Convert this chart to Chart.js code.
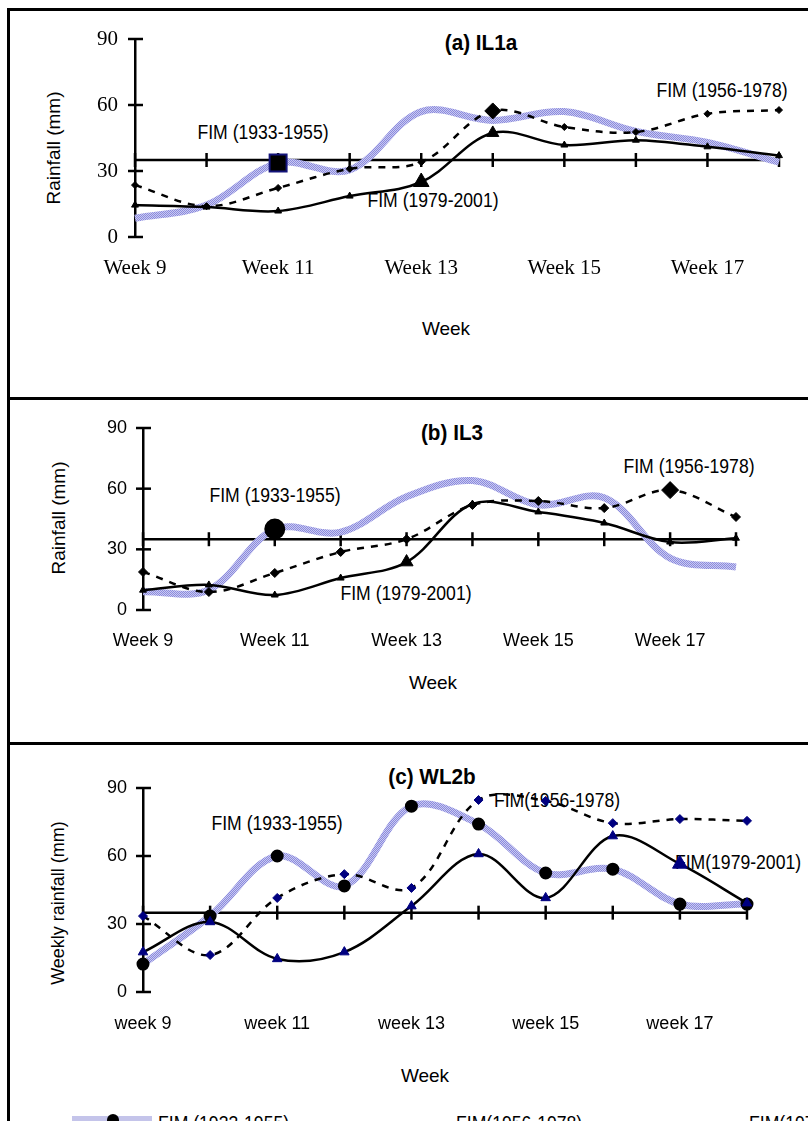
<!DOCTYPE html>
<html>
<head>
<meta charset="utf-8">
<script src="https://cdn.jsdelivr.net/npm/chart.js@4.4.0/dist/chart.umd.min.js"></script>
<style>
  html, body { margin: 0; padding: 0; background: #fff; overflow: hidden; }
  #page { position: relative; width: 808px; height: 1121px; overflow: hidden; }
  canvas { position: absolute; left: 0; z-index: 2; }
  .rule { position: absolute; background: #000; z-index: 3; }
  .lbl { position: absolute; z-index: 1; color: #000; white-space: nowrap; line-height: 1;
         font-family: 'Liberation Sans', Arial, sans-serif; font-size: 19px; }
  .ann { font-size: 20px; transform: translate(-50%, -50%) scaleX(0.88); }
  .ttl { font-size: 22px; font-weight: bold; transform: translate(-50%, -50%) scaleX(0.94); }
  .axt { transform: translate(-50%, -50%); }
  .ytl { transform: translate(-50%, -50%) rotate(-90deg); }
  .leg { font-size: 20px; transform: scaleX(0.88); transform-origin: left top; }
</style>
</head>
<body>
<div id="page">
  <canvas id="chartA" width="808" height="398" style="top:0px"></canvas>
  <canvas id="chartB" width="808" height="345" style="top:398px"></canvas>
  <canvas id="chartC" width="808" height="378" style="top:743px"></canvas>
</div>
<script>
// weeks (tick labels)
const weeksUpper = ['Week 9', 'Week 10', 'Week 11', 'Week 12', 'Week 13', 'Week 14', 'Week 15', 'Week 16', 'Week 17', 'Week 18'];
const weeksLower = ['week 9', 'week 10', 'week 11', 'week 12', 'week 13', 'week 14', 'week 15', 'week 16', 'week 17', 'week 18'];
const yTickValues = [0, 30, 60, 90];

// long-term mean line (35 mm)
const meanLine = [35, 35, 35, 35, 35, 35, 35, 35, 35, 35];

// (a) IL1a
const il1a_1933 = [8.5, 14.5, 33.6, 30.5, 57, 53, 57, 48, 43, 34];
const il1a_1956 = [23.6, 14, 22.3, 31, 34, 57.3, 50, 47.7, 56, 57.7];
const il1a_1979 = [14.5, 13.6, 11.8, 18.6, 25, 47.3, 41.8, 44, 41, 37];

// (b) IL3
const il3_1933 = [9, 10, 40, 38.5, 56, 64, 52, 55.5, 25.7, 21.3];
const il3_1956 = [18.8, 8.9, 18.3, 28.7, 35, 51.9, 53.9, 50.4, 59.3, 46];
const il3_1979 = [9.8, 12.4, 7.4, 15.8, 23.7, 52.4, 48.5, 43, 33.6, 35.5];

// (c) WL2b
const wl2b_1933 = [12.3, 33.5, 60, 46.8, 82, 74.1, 52.5, 54.2, 38.8, 38.8];
const wl2b_1956 = [33.5, 16.3, 41.5, 52, 45.9, 84.7, 84.3, 74.5, 76.3, 75.5];
const wl2b_1979 = [17.6, 30.9, 14.6, 17.6, 37.9, 60.9, 41.5, 68.8, 56.5, 39.2];

function stipple() {
    const c = document.createElement('canvas');
    c.width = 2; c.height = 2;
    const g = c.getContext('2d');
    g.fillStyle = '#cacaf0';
    g.fillRect(0, 0, 2, 2);
    g.fillStyle = '#8a8ade';
    g.fillRect(0, 0, 1, 1);
    g.fillRect(1, 1, 1, 1);
    return g.createPattern(c, 'repeat');
}

// ticks that cross the y axis
const crossTicks = {
    id: 'crossTicks',
    afterDraw(chart) {
        const y = chart.scales.y;
        const ctx = chart.ctx;
        ctx.save();
        ctx.strokeStyle = '#000';
        ctx.lineWidth = 2.5;
        y.ticks.forEach(t => {
            const py = y.getPixelForValue(t.value);
            ctx.beginPath();
            ctx.moveTo(y.right - 7, py);
            ctx.lineTo(y.right + 8, py);
            ctx.stroke();
        });
        ctx.restore();
    }
};

function radiusFn(sizes, base) {
    return ctx => (sizes[ctx.dataIndex] !== undefined ? sizes[ctx.dataIndex] : base);
}

function makeChart(id, geo, labels, s1933, s1956, s1979, st) {
    const canvas = document.getElementById(id);
    new Chart(canvas, {
        type: 'line',
        data: {
            labels: labels,
            datasets: [
                {
                    label: 'FIM (1979-2001)',
                    data: s1979,
                    borderColor: '#000',
                    borderWidth: 2.5,
                    tension: 0.35,
                    clip: false,
                    pointStyle: 'triangle',
                    pointRadius: radiusFn(st.triBig, st.triR),
                    pointBackgroundColor: st.mark,
                    pointBorderColor: st.mark,
                    pointBorderWidth: 1
                },
                {
                    label: 'FIM (1956-1978)',
                    data: s1956,
                    borderColor: '#000',
                    borderWidth: 2.5,
                    borderDash: [7, 7],
                    tension: 0.35,
                    clip: false,
                    pointStyle: 'rectRot',
                    pointRadius: radiusFn(st.diaBig, st.diaR),
                    pointBackgroundColor: st.mark,
                    pointBorderColor: st.mark,
                    pointBorderWidth: 1
                },
                {
                    label: 'FIM (1933-1955)',
                    data: s1933,
                    borderColor: stipple(),
                    borderWidth: 7,
                    tension: 0.35,
                    clip: false,
                    pointStyle: st.oldStyle,
                    pointRadius: radiusFn(st.oldBig, st.oldR),
                    pointBackgroundColor: '#000',
                    pointBorderColor: st.oldEdge,
                    pointBorderWidth: 2
                },
                {
                    label: 'mean',
                    data: meanLine,
                    borderColor: '#000',
                    borderWidth: 2.5,
                    tension: 0,
                    clip: false,
                    pointStyle: 'line',
                    pointRotation: 90,
                    pointRadius: 7,
                    pointBorderColor: '#000',
                    pointBorderWidth: 2.5
                }
            ]
        },
        options: {
            responsive: false,
            animation: false,
            events: [],
            layout: { padding: { left: 0, top: geo.top, right: 808 - geo.right, bottom: 0 } },
            plugins: { legend: { display: false }, tooltip: { enabled: false } },
            scales: {
                x: {
                    offset: false,
                    grid: { display: false, drawTicks: false },
                    border: { display: false },
                    ticks: {
                        autoSkip: false,
                        maxRotation: 0,
                        padding: geo.xPad,
                        color: '#000',
                        font: st.tickFont,
                        callback: (v, i) => (i % 2 === 0 ? labels[i] : '')
                    },
                    afterFit(s) { s.height = geo.h - geo.bottom; }
                },
                y: {
                    min: 0,
                    max: 90,
                    grid: { display: false, drawTicks: false },
                    border: { display: true, color: '#000', width: 2.5 },
                    afterBuildTicks(s) { s.ticks = yTickValues.map(v => ({ value: v })); },
                    ticks: { padding: geo.yPad, color: '#000', font: st.tickFont },
                    afterFit(s) { s.width = geo.left; }
                }
            }
        },
        plugins: [crossTicks]
    });
}

const serifTicks = { family: "'Liberation Serif', 'Times New Roman', serif", size: 21 };
const sansTicks = { family: "'Liberation Sans', Arial, sans-serif", size: 18 };

makeChart('chartA', { h: 398, left: 135, right: 779, top: 39, bottom: 237, xPad: 19, yPad: 17 },
    weeksUpper, il1a_1933, il1a_1956, il1a_1979,
    { tickFont: serifTicks, mark: '#000', triR: 4, triBig: { 4: 9, 5: 7 }, diaR: 3.5, diaBig: { 5: 8 },
      oldStyle: 'rect', oldR: 0, oldBig: { 2: 12 }, oldEdge: '#14147a' });

makeChart('chartB', { h: 345, left: 143, right: 736, top: 30, bottom: 212, xPad: 20, yPad: 16 },
    weeksUpper, il3_1933, il3_1956, il3_1979,
    { tickFont: sansTicks, mark: '#000', triR: 4, triBig: { 4: 7.5 }, diaR: 4.5, diaBig: { 8: 8.5 },
      oldStyle: 'circle', oldR: 0, oldBig: { 2: 9.5 }, oldEdge: '#000' });

makeChart('chartC', { h: 378, left: 143, right: 747, top: 45, bottom: 249, xPad: 21, yPad: 16 },
    weeksLower, wl2b_1933, wl2b_1956, wl2b_1979,
    { tickFont: sansTicks, mark: '#000080', triR: 5.5, triBig: { 8: 8.5 }, diaR: 4.5, diaBig: {},
      oldStyle: 'circle', oldR: 5.5, oldBig: {}, oldEdge: '#000' });

// frame and panel separators
const page = document.getElementById('page');
[[7, 8, 801, 3], [7, 397, 801, 3], [7, 742, 801, 3], [7, 8, 3, 1113]].forEach(([l, t, w, h]) => {
    const d = document.createElement('div');
    d.className = 'rule';
    d.style.cssText = `left:${l}px;top:${t}px;width:${w}px;height:${h}px`;
    page.appendChild(d);
});

// titles, annotations and axis titles (centre positions)
const texts = [
    ['(a) IL1a', 481, 43, 'ttl'],
    ['FIM (1933-1955)', 263, 132, 'ann'],
    ['FIM (1979-2001)', 433, 200, 'ann'],
    ['FIM (1956-1978)', 722, 90, 'ann'],
    ['Rainfall (mm)', 53, 148, 'ytl'],
    ['Week', 446, 328, 'axt'],

    ['(b) IL3', 452, 433, 'ttl'],
    ['FIM (1933-1955)', 275, 495, 'ann'],
    ['FIM (1979-2001)', 406, 593, 'ann'],
    ['FIM (1956-1978)', 689, 466, 'ann'],
    ['Rainfall (mm)', 58, 518, 'ytl'],
    ['Week', 433, 682, 'axt'],

    ['(c) WL2b', 432, 777, 'ttl'],
    ['FIM (1933-1955)', 277, 823, 'ann'],
    ['FIM(1956-1978)', 557, 800, 'ann'],
    ['FIM(1979-2001)', 738, 862, 'ann'],
    ['Weekly rainfall (mm)', 58, 903, 'ytl'],
    ['Week', 425, 1075, 'axt']
];
texts.forEach(([txt, x, y, cls]) => {
    const d = document.createElement('div');
    d.className = 'lbl ' + cls;
    d.textContent = txt;
    d.style.left = x + 'px';
    d.style.top = y + 'px';
    if (cls === 'ytl' && txt.startsWith('Weekly')) d.style.fontSize = '18px';
    page.appendChild(d);
});

// legend row, cut off by the bottom edge
const legendItems = [['FIM (1933-1955)', 158], ['FIM(1956-1978)', 456], ['FIM(1979-2001)', 749]];
legendItems.forEach(([txt, x]) => {
    const d = document.createElement('div');
    d.className = 'lbl leg';
    d.textContent = txt;
    d.style.left = x + 'px';
    d.style.top = '1113px';
    page.appendChild(d);
});
const legLine = document.createElement('div');
legLine.style.cssText = 'position:absolute;left:72px;top:1116px;width:80px;height:5px;background:#c4c4ea;z-index:1';
page.appendChild(legLine);
const legDot = document.createElement('div');
legDot.style.cssText = 'position:absolute;left:107px;top:1114px;width:12px;height:12px;border-radius:6px;background:#000;z-index:1';
page.appendChild(legDot);
</script>
</body>
</html>
